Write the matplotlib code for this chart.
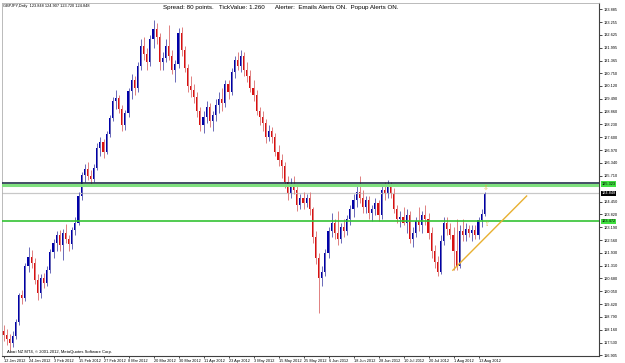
import numpy as np
import matplotlib.pyplot as plt
import matplotlib.transforms as mtransforms

plt.rcParams['font.family'] = ['Liberation Sans', 'DejaVu Sans']

# GBPJPY daily bars, 12 Jan 2012 .. 15 Aug 2012
opens = [118.10, 117.90, 117.70, 117.50, 117.85, 118.55, 119.85, 119.70, 121.30, 121.75,
         121.45, 120.60, 119.95, 120.70, 120.45, 121.10, 121.95, 122.40, 122.80, 122.30,
         122.90, 122.60, 122.35, 123.05, 123.40, 124.70, 125.75, 126.05, 125.70, 125.55,
         126.10, 127.10, 127.35, 126.90, 127.75, 128.55, 129.40, 129.55, 129.00, 128.20,
         128.80, 129.85, 130.40, 130.00, 131.10, 132.10, 131.70, 131.30, 132.40, 132.90,
         132.50, 131.30, 131.50, 132.10, 131.60, 130.90, 131.20, 132.70, 131.90, 131.00,
         130.10, 129.90, 129.60, 128.90, 128.20, 128.60, 129.10, 128.40, 128.70, 129.20,
         129.50, 129.30, 130.20, 129.80, 130.80, 131.40, 131.10, 131.60, 130.90, 130.60,
         130.00, 129.70, 128.90, 128.60, 128.30, 127.60, 127.90, 127.60, 126.90, 126.50,
         126.20, 125.40, 124.80, 125.30, 125.00, 124.30, 124.60, 124.40, 124.60, 124.10,
         122.70, 121.70, 120.70, 121.00, 121.90, 123.00, 123.40, 122.90, 122.60, 123.20,
         123.00, 123.60, 124.10, 124.50, 124.90, 124.60, 124.20, 124.50, 123.90, 124.10,
         124.40, 123.80, 125.00, 124.80, 125.20, 124.80, 124.10, 123.60, 123.70, 123.40,
         123.80, 122.60, 122.90, 123.50, 123.30, 123.80, 123.60, 122.90, 122.00, 121.50,
         121.00, 122.50, 123.40, 123.10, 122.80, 122.00, 121.30, 123.00, 122.80, 123.10,
         122.90, 123.05, 122.80, 123.55, 123.848]
highs = [118.40, 118.20, 117.95, 118.10, 118.70, 119.95, 120.10, 121.45, 122.20, 122.05,
         121.70, 120.90, 120.90, 120.95, 121.30, 122.10, 122.60, 123.00, 123.05, 123.10,
         123.35, 122.80, 123.20, 123.70, 124.90, 125.90, 126.30, 126.40, 126.00, 126.30,
         127.30, 127.60, 127.50, 127.90, 128.70, 129.60, 129.90, 129.70, 129.20, 128.95,
         130.00, 130.70, 130.60, 131.30, 132.40, 132.50, 132.00, 132.60, 133.35, 133.20,
         132.70, 131.80, 132.40, 133.10, 131.90, 131.40, 132.95, 133.00, 132.10, 131.20,
         130.60, 130.20, 129.80, 129.10, 128.90, 129.40, 129.30, 128.90, 129.50, 129.80,
         130.00, 130.40, 130.40, 131.00, 131.60, 131.80, 131.90, 131.80, 131.30, 130.90,
         130.40, 129.90, 129.10, 128.90, 128.50, 128.20, 128.10, 127.80, 127.20, 126.80,
         126.40, 125.70, 125.60, 125.70, 125.20, 124.80, 124.90, 124.80, 124.90, 124.20,
         123.00, 121.90, 121.30, 122.10, 123.20, 123.90, 123.60, 124.00, 123.40, 123.60,
         123.80, 124.30, 124.80, 125.20, 125.70, 125.00, 124.70, 124.70, 124.30, 124.60,
         124.50, 125.30, 125.40, 125.50, 125.40, 125.10, 124.30, 124.00, 124.20, 124.10,
         124.00, 123.20, 123.70, 124.20, 124.00, 124.30, 123.90, 123.20, 122.30, 121.80,
         122.80, 123.70, 123.70, 123.40, 123.20, 123.60, 123.30, 123.60, 123.40, 123.30,
         123.30, 123.30, 123.70, 124.10, 124.907]
lows = [117.60, 117.40, 117.15, 117.30, 117.70, 118.40, 119.40, 119.55, 121.00, 121.20,
        120.40, 119.60, 119.70, 120.20, 120.30, 120.95, 121.70, 122.00, 122.00, 121.60,
        122.40, 122.00, 122.10, 122.80, 123.30, 124.50, 125.40, 125.50, 125.30, 125.40,
        126.00, 126.70, 126.60, 126.80, 127.60, 128.40, 129.00, 128.80, 127.90, 127.95,
        128.60, 129.50, 129.70, 129.80, 130.90, 131.40, 130.90, 131.10, 132.00, 132.20,
        130.90, 130.90, 131.30, 131.40, 130.70, 130.30, 131.00, 131.60, 130.80, 129.80,
        129.60, 129.30, 128.60, 127.90, 127.80, 128.30, 128.10, 127.90, 128.40, 128.80,
        128.90, 129.10, 129.50, 129.70, 130.50, 130.90, 130.80, 130.60, 130.30, 129.80,
        129.40, 128.70, 128.20, 127.90, 127.30, 127.40, 127.30, 126.70, 126.20, 125.60,
        125.10, 124.50, 124.60, 124.80, 124.00, 124.10, 124.10, 124.20, 123.80, 122.40,
        121.40, 119.00, 120.30, 120.80, 121.70, 122.70, 122.60, 122.30, 122.40, 122.70,
        122.80, 123.30, 123.70, 124.20, 124.40, 123.90, 123.90, 123.60, 123.50, 123.80,
        123.50, 123.60, 124.50, 124.60, 124.60, 123.90, 123.40, 123.20, 123.30, 122.90,
        122.40, 122.20, 122.70, 123.00, 122.90, 123.30, 122.60, 121.70, 121.20, 120.80,
        120.90, 122.30, 122.80, 122.60, 121.10, 121.10, 121.20, 122.50, 122.50, 122.70,
        122.50, 122.60, 122.60, 123.20, 123.720]
closes = [117.90, 117.70, 117.50, 117.85, 118.55, 119.85, 119.70, 121.30, 121.75, 121.45,
          120.60, 119.95, 120.70, 120.45, 121.10, 121.95, 122.40, 122.80, 122.30, 122.90,
          122.60, 122.35, 123.05, 123.40, 124.70, 125.75, 126.05, 125.70, 125.55, 126.10,
          127.10, 127.35, 126.90, 127.75, 128.55, 129.40, 129.55, 129.00, 128.20, 128.80,
          129.85, 130.40, 130.00, 131.10, 132.10, 131.70, 131.30, 132.40, 132.90, 132.50,
          131.30, 131.50, 132.10, 131.60, 130.90, 131.20, 132.70, 131.90, 131.00, 130.10,
          129.90, 129.60, 128.90, 128.20, 128.60, 129.10, 128.40, 128.70, 129.20, 129.50,
          129.30, 130.20, 129.80, 130.80, 131.40, 131.10, 131.60, 130.90, 130.60, 130.00,
          129.70, 128.90, 128.60, 128.30, 127.60, 127.90, 127.60, 126.90, 126.50, 126.20,
          125.40, 124.80, 125.30, 125.00, 124.30, 124.60, 124.40, 124.60, 124.10, 122.70,
          121.70, 120.70, 121.00, 121.90, 123.00, 123.40, 122.90, 122.60, 123.20, 123.00,
          123.60, 124.10, 124.50, 124.90, 124.60, 124.20, 124.50, 123.90, 124.10, 124.40,
          123.80, 125.00, 124.80, 125.20, 124.80, 124.10, 123.60, 123.70, 123.40, 123.80,
          122.60, 122.90, 123.50, 123.30, 123.80, 123.60, 122.90, 122.00, 121.50, 121.00,
          122.50, 123.40, 123.10, 122.80, 122.00, 121.30, 123.00, 122.80, 123.10, 122.90,
          123.05, 122.80, 123.55, 123.848, 124.848]

date_labels = ["12 Jan 2012", "24 Jan 2012", "3 Feb 2012", "15 Feb 2012", "27 Feb 2012",
               "8 Mar 2012", "20 Mar 2012", "30 Mar 2012", "11 Apr 2012", "23 Apr 2012",
               "3 May 2012", "15 May 2012", "25 May 2012", "6 Jun 2012", "18 Jun 2012",
               "28 Jun 2012", "10 Jul 2012", "20 Jul 2012", "1 Aug 2012", "13 Aug 2012"]
price_ticks = [133.885, 133.255, 132.625, 131.995, 131.365, 130.750, 130.120, 129.490,
               128.860, 128.230, 127.600, 126.970, 126.340, 125.710, 124.450, 123.820,
               123.190, 122.560, 121.930, 121.310, 120.680, 120.050, 119.420, 118.790,
               118.160, 117.530, 116.905]

# horizontal levels and trend line
resist_top = 125.36
resist_green = 125.27
support_green = 123.47
trend_x = [143.8, 167.4]
trend_y = [121.08, 124.72]

bull = "#0000a8"
bear = "#d81010"

fig = plt.figure(figsize=(6.25, 3.63), dpi=100)
ax = fig.add_axes([2 / 625, 7 / 363, 597 / 625, 353 / 363])

x = np.arange(len(closes))
o = np.array(opens)
c = np.array(closes)
h = np.array(highs)
lo = np.array(lows)
up = c >= o
ax.vlines(x[up], lo[up], h[up], color="#6a6ab8", lw=0.7)
ax.vlines(x[~up], lo[~up], h[~up], color="#e08080", lw=0.7)
body = np.where(np.abs(c - o) < 0.05, 0.05, c - o)
ax.bar(x[up], body[up], bottom=o[up], width=0.68, color=bull, lw=0)
ax.bar(x[~up], body[~up], bottom=o[~up], width=0.68, color=bear, lw=0)

ax.axhline(resist_green, color="#7fe07f", lw=2.2, zorder=3)
ax.axhline(resist_top, color="#10203a", lw=1.1, zorder=4)
ax.axhline(closes[-1], color="#c8c8c8", lw=0.9, zorder=1)
ax.axhline(support_green, color="#33c233", lw=1.2, zorder=3)
ax.plot(trend_x, trend_y, color="#e8b030", lw=1.0, zorder=4)
ax.text(154.3, 125.15, "\u21e9", color="#e0b040", fontsize=5, ha="center", va="center",
        family="DejaVu Sans")
ax.text(154.5, 123.3, "\u21e7", color="#e0b040", fontsize=4, ha="center", va="center",
        family="DejaVu Sans")

ax.set_xlim(-0.48, 190.56)
ax.set_ylim(116.87, 134.19)

ax.set_xticks(x[::8])
ax.set_xticklabels(date_labels, fontsize=2.8, ha="left")
ax.tick_params(axis="x", length=1.5, width=0.5, pad=0.5)
ax.yaxis.tick_right()
ax.set_yticks(price_ticks)
ax.set_yticklabels(["%.3f" % p for p in price_ticks], fontsize=2.8)
ax.tick_params(axis="y", length=2, width=0.5, pad=1.5)
for s in ["top", "left"]:
    ax.spines[s].set_color("#b0b0b0")
    ax.spines[s].set_linewidth(0.6)
for s in ["right", "bottom"]:
    ax.spines[s].set_color("#404040")
    ax.spines[s].set_linewidth(0.8)

# highlighted price labels on the right scale
tr = mtransforms.blended_transform_factory(ax.transAxes, ax.transData)
tags = [(125.32, "125.323", "#40e040", "black"),
        (closes[-1], "124.848", "black", "white"),
        (support_green, "123.472", "#40e040", "black")]
for yv, txt, bg, fg in tags:
    ax.text(1.004, yv, txt, transform=tr, fontsize=2.8, color=fg, va="center", ha="left",
            bbox=dict(boxstyle="square,pad=0.2", fc=bg, ec="none"))

fig.text(3 / 625, 1 - 6 / 363, "GBPJPY,Daily  123.848 124.907 123.720 124.848",
         fontsize=2.8, va="center", ha="left")
fig.text(163 / 625, 1 - 7 / 363,
         "Spread: 80 points.   TickValue: 1.260      Alerter:  Emails Alerts ON.  Popup Alerts ON.",
         fontsize=4.5, va="center", ha="left")
ax.text(1, 117.05, "Abari NZ MT4, \u00a9 2001-2012, MetaQuotes Software Corp.",
        fontsize=3.0, va="center", ha="left")

fig.savefig("out.png", dpi=100)
